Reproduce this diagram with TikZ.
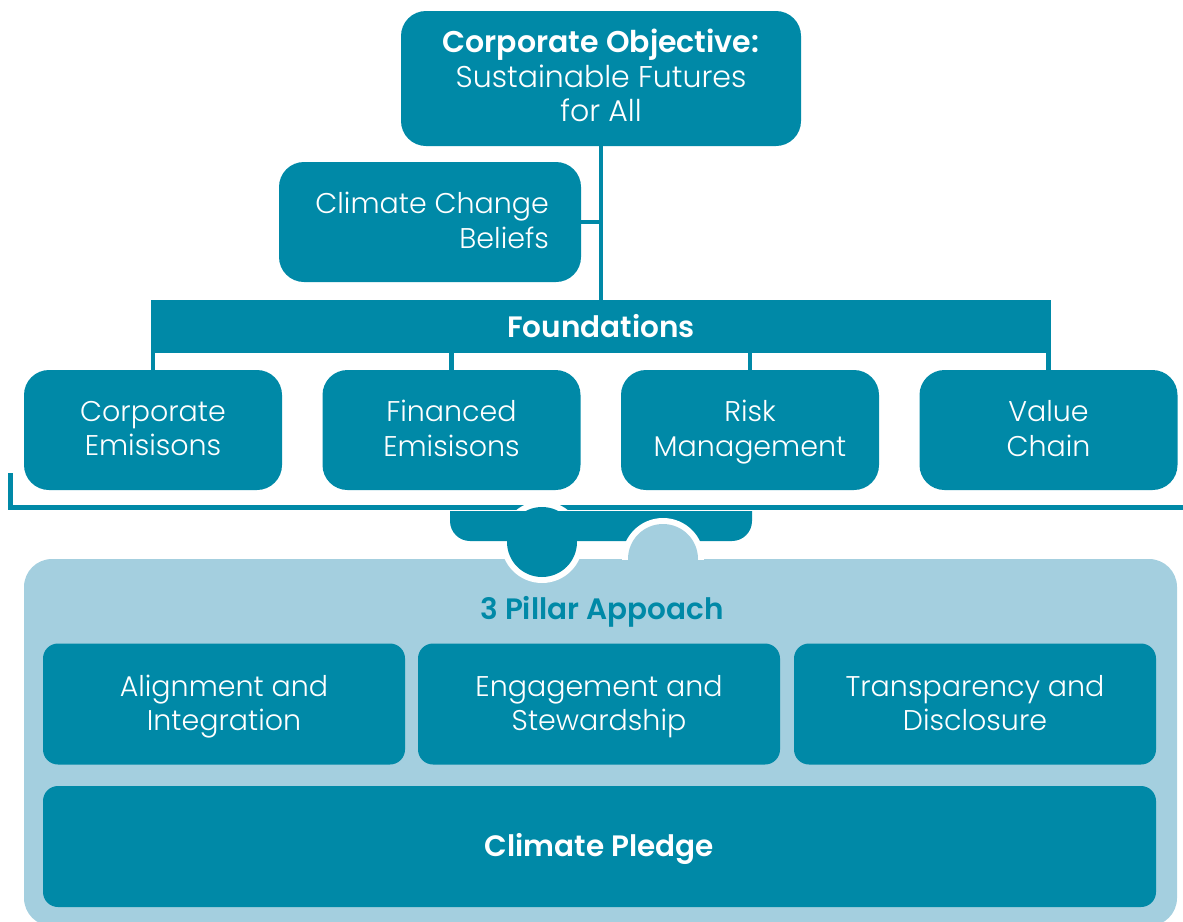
\documentclass[tikz,border=0pt]{standalone}
\usepackage{fontspec}
\setmainfont{Poppins}[UprightFont={* Light}]
\definecolor{teal1}{RGB}{0,137,167}
\definecolor{light1}{RGB}{164,207,223}
\begin{document}
\begin{tikzpicture}[x=1pt,y=-1pt,
  txt/.style={font=\fontsize{28.5}{34.5}\selectfont, text=white, align=center, inner sep=0pt,
    execute at begin node=\strut, execute at end node=\strut},
  box/.style={fill=teal1, rounded corners=25pt, inner sep=0pt},
  pbox/.style={fill=teal1, rounded corners=15pt, inner sep=0pt},
  boldtxt/.style={font=\fontsize{29.5}{34}\selectfont\bfseries},
  conn/.style={draw=teal1, line width=4.5pt}]
\useasboundingbox (0,0) rectangle (1183,921);
% top part
\node[box, minimum width=400pt, minimum height=135pt] (obj) at (601,78.5) {};
\node[txt, font=\fontsize{30}{34.5}\selectfont] (objt) at ([yshift=-2pt]obj.center)
  {{\bfseries Corporate Objective:}\\Sustainable Futures\\for All};
\node[box, minimum width=302pt, minimum height=120pt] (ccb) at (430,222) {};
\node[txt, align=right, anchor=east] (ccbt) at (549,225.5) {Climate Change\\Beliefs};
\node[fill=teal1, minimum width=900pt, minimum height=53pt, inner sep=0pt, text=white, boldtxt] (found) at (601,326.5) {Foundations};
\node[box, minimum width=258pt, minimum height=120pt] (b1) at (153,430) {};
\node[box, minimum width=258pt, minimum height=120pt] (b2) at (451.5,430) {};
\node[box, minimum width=258pt, minimum height=120pt] (b3) at (750,430) {};
\node[box, minimum width=258pt, minimum height=120pt] (b4) at (1048.5,430) {};
\node[txt] (b1t) at ([yshift=-3.5pt]b1.center) {Corporate\\Emisisons};
\node[txt] (b2t) at ([yshift=-3.5pt]b2.center) {Financed\\Emisisons};
\node[txt] (b3t) at ([yshift=-3.5pt]b3.center) {Risk\\Management};
\node[txt] (b4t) at ([yshift=-3.5pt]b4.center) {Value\\Chain};
\draw[conn] (obj.south) -- (obj.south |- found.north);
\draw[conn] (ccb.east) -- (ccb.east -| obj.south);
\foreach \b in {b1,b2,b3,b4}{\draw[conn] (\b.north) -- (\b.north |- found.south);}
\coordinate (brL) at (10.5,473);
\coordinate (brR) at (1190,507.5);
\draw[draw=teal1, line width=4.5pt] (brL) |- (brR);
% bottom panel
\fill[light1, rounded corners=28pt] (24,559) rectangle (1177,926);
\fill[white] (542,542) circle (41pt);
\begin{scope}
  \clip (440,511) rectangle (760,600);
  \fill[teal1, rounded corners=20pt] (450,480) rectangle (752,541);
\end{scope}
\fill[teal1] (542,542) circle (35pt);
\begin{scope}
  \clip (600,500) rectangle (720,559.5);
  \fill[white] (663,559) circle (41pt);
  \fill[light1] (663,559) circle (35pt);
\end{scope}
\node[boldtxt, text=teal1] (pil) at (602,612) {3 Pillar Appoach};
\node[pbox, minimum width=362pt, minimum height=121pt] (p1) at (224,704) {};
\node[pbox, minimum width=362pt, minimum height=121pt] (p2) at (599,704) {};
\node[pbox, minimum width=362pt, minimum height=121pt] (p3) at (975,704) {};
\node[txt] (p1t) at ([yshift=-4pt]p1.center) {Alignment and\\Integration};
\node[txt] (p2t) at ([yshift=-4pt]p2.center) {Engagement and\\Stewardship};
\node[txt] (p3t) at ([yshift=-4pt]p3.center) {Transparency and\\Disclosure};
\node[pbox, minimum width=1113pt, minimum height=121pt] (cp) at (599.5,846.5) {};
\node[boldtxt, text=white, inner sep=0pt] (cpt) at ([yshift=-2pt]cp.center) {Climate Pledge};
\end{tikzpicture}
\end{document}
